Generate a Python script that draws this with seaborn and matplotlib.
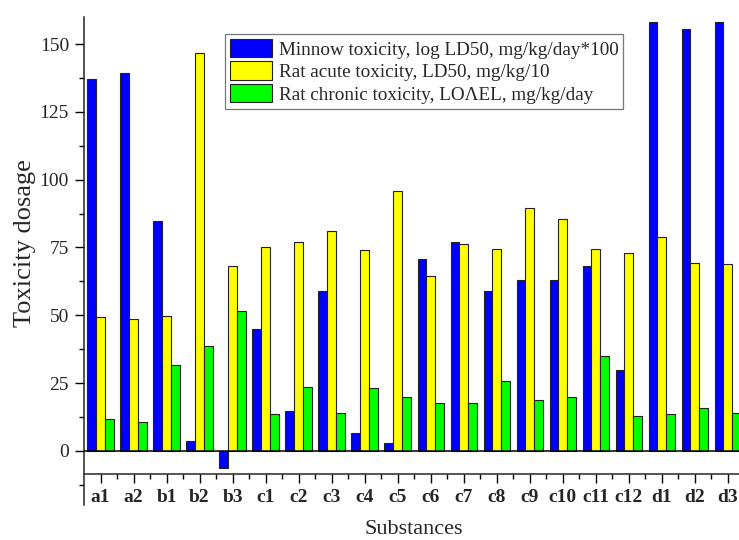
import numpy as np
import pandas as pd
import matplotlib
matplotlib.use("Agg")
import matplotlib.pyplot as plt
from matplotlib.ticker import FixedLocator
import seaborn as sns

substances = ["a1", "a2", "b1", "b2", "b3", "c1", "c2", "c3", "c4", "c5",
              "c6", "c7", "c8", "c9", "c10", "c11", "c12", "d1", "d2", "d3"]
minnow = [137.0, 139.3, 84.8, 3.7, -6.5, 44.9, 14.6, 59.0, 6.5, 2.7,
          70.9, 77.0, 59.0, 62.9, 62.9, 68.0, 29.7, 158.2, 155.4, 158.2]
rat_acute = [49.4, 48.6, 49.7, 146.9, 68.0, 75.0, 77.0, 81.2, 74.2, 96.0,
             64.6, 76.3, 74.4, 89.7, 85.5, 74.4, 72.9, 78.8, 69.2, 68.8]
rat_chronic = [11.9, 10.6, 31.8, 38.5, 51.7, 13.4, 23.4, 13.8, 23.2, 20.0,
               17.6, 17.6, 25.8, 18.6, 20.0, 34.8, 13.0, 13.6, 15.6, 13.9]
series_names = ["Minnow toxicity, log LD50, mg/kg/day*100",
                "Rat acute toxicity, LD50, mg/kg/10",
                "Rat chronic toxicity, LO\u039bEL, mg/kg/day"]
colors = ["#0000FF", "#FFFF00", "#00FF00"]
y_major = [0, 25, 50, 75, 100, 125, 150]
y_minor = [-12.5, 12.5, 37.5, 62.5, 87.5, 112.5, 137.5]

df = pd.DataFrame({
    "Substance": substances * 3,
    "Value": minnow + rat_acute + rat_chronic,
    "Series": [series_names[0]] * 20 + [series_names[1]] * 20 + [series_names[2]] * 20,
})

sns.set_theme(style="ticks")
plt.rcParams['font.family'] = ['Liberation Serif', 'DejaVu Serif']

fig = plt.figure(figsize=(7.39, 5.40), dpi=100)
ax = fig.add_axes([84 / 739, 1 - 505 / 540, 660.4 / 739, 488 / 540])

sns.barplot(data=df, x="Substance", y="Value", hue="Series", order=substances,
            hue_order=series_names, palette=colors, edgecolor="#222222",
            linewidth=0.8, saturation=1, width=0.8, ax=ax, zorder=2)

ax.set_xlim(-0.5, 19.5)
ax.set_ylim(-20, 160)
ax.axhline(0, color="black", lw=1.1, zorder=3)

for s in ["top", "right"]:
    ax.spines[s].set_visible(False)
ax.spines["left"].set_linewidth(1.1)
ax.spines["bottom"].set_linewidth(1.1)
ax.spines["bottom"].set_position(("data", -8.5))

ax.yaxis.set_major_locator(FixedLocator(y_major))
ax.yaxis.set_minor_locator(FixedLocator(y_minor))
ax.xaxis.set_minor_locator(FixedLocator(np.arange(0.5, 19.5, 1.0)))
ax.tick_params(axis="both", which="major", direction="out", length=6.3, width=1.0, color="black")
ax.tick_params(axis="both", which="minor", direction="out", length=3.8, width=1.0, color="black")
ax.tick_params(axis="y", labelsize=14, pad=4.5)
ax.tick_params(axis="x", labelsize=14, pad=4.5)
for lab in ax.get_xticklabels():
    lab.set_fontweight("bold")

ax.set_xlabel("Substances", fontsize=16)
ax.set_ylabel("Toxicity dosage", fontsize=19)
ax.yaxis.set_label_coords(-0.073, 0.537)
ax.xaxis.set_label_coords(0.5, -0.031)

leg = ax.legend(loc="upper left", bbox_to_anchor=(0.2135, 0.965), borderaxespad=0,
                fontsize=13.8, frameon=True, fancybox=False, framealpha=1,
                edgecolor="#777777", handlelength=2.2, handleheight=1.1,
                labelspacing=0.15, handletextpad=0.35, borderpad=0.25, title=None)
leg.get_frame().set_linewidth(0.9)

fig.savefig("out.png", dpi=100)
